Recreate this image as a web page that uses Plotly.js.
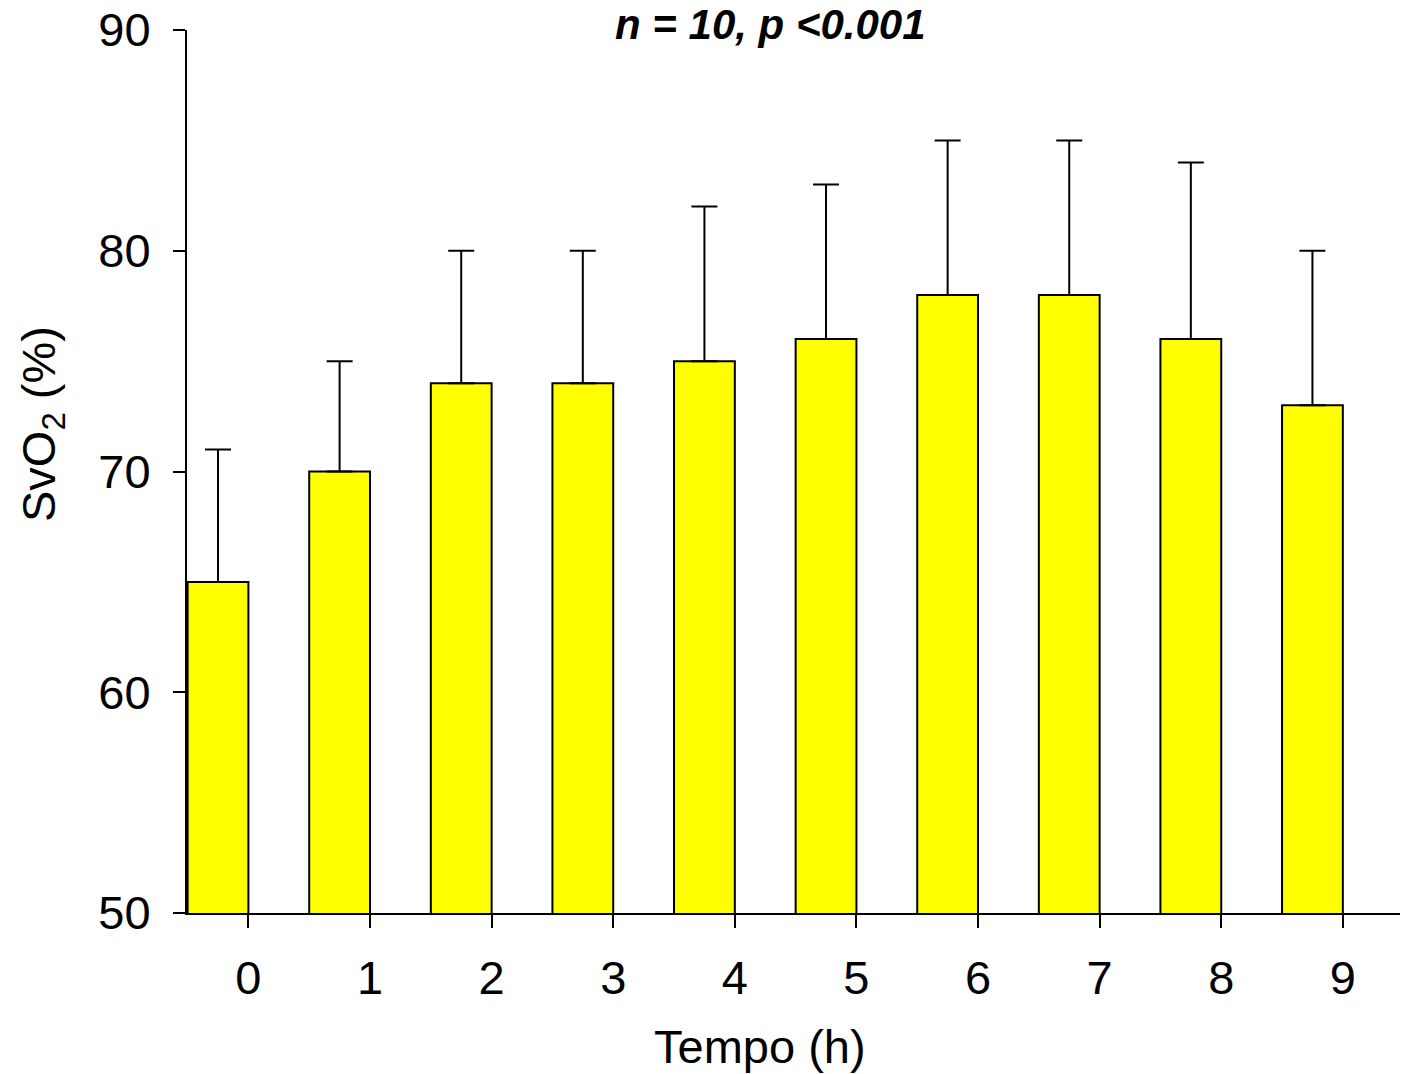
<!DOCTYPE html>
<html>
<head>
<meta charset="utf-8">
<script src="https://cdn.plot.ly/plotly-3.0.1.min.js"></script>
<style>html,body{margin:0;padding:0;background:#fff;}#chart{width:1401px;height:1074px;}</style>
</head>
<body>
<div id="chart"></div>
<script>
const hours = [0, 1, 2, 3, 4, 5, 6, 7, 8, 9];
const tickLabels = ["0", "1", "2", "3", "4", "5", "6", "7", "8", "9"];
const svo2Mean = [65, 70, 74, 74, 75, 76, 78, 78, 76, 73];
const svo2SD = [6, 5, 6, 6, 7, 7, 7, 7, 8, 7];

const FONT = "Liberation Sans, Arial, sans-serif";

const trace = {
  type: "bar",
  x: hours,
  y: svo2Mean,
  width: 0.5,
  marker: { color: "#FFFF00", line: { color: "#000", width: 2 } },
  error_y: {
    type: "data",
    symmetric: false,
    array: svo2SD,
    arrayminus: svo2SD.map(() => 0),
    color: "#000",
    thickness: 2,
    width: 13
  },
  hoverinfo: "none"
};

const layout = {
  width: 1401,
  height: 1074,
  margin: { l: 187, r: 1, t: 30, b: 161 },
  paper_bgcolor: "#fff",
  plot_bgcolor: "#fff",
  showlegend: false,
  font: { family: FONT, size: 47, color: "#000" },
  xaxis: {
    range: [-0.255, 9.72],
    tickvals: hours.map(h => h + 0.25),
    ticktext: tickLabels,
    ticks: "outside",
    ticklen: 13,
    tickwidth: 2,
    tickcolor: "#000",
    showline: true,
    linecolor: "#000",
    linewidth: 2,
    showgrid: false,
    zeroline: false,
    ticklabelstandoff: 10,
    tickfont: { family: FONT, size: 47, color: "#000" }
  },
  yaxis: {
    range: [50, 90],
    tickvals: [50, 60, 70, 80, 90],
    ticks: "outside",
    ticklen: 12,
    tickwidth: 2,
    tickcolor: "#000",
    showline: true,
    linecolor: "#000",
    linewidth: 2,
    showgrid: false,
    zeroline: false,
    ticklabelstandoff: 13,
    tickfont: { family: FONT, size: 47, color: "#000" }
  },
  annotations: [
    {
      text: "<b><i>n = 10, p &lt;0.001</i></b>",
      xref: "paper", yref: "paper",
      x: (770 - 187) / 1213, y: (913 - 24) / 883,
      xanchor: "center", yanchor: "middle",
      showarrow: false,
      font: { family: FONT, size: 42, color: "#000" }
    },
    {
      text: "Tempo (h)",
      xref: "paper", yref: "paper",
      x: (760 - 187) / 1213, y: (913 - 1046) / 883,
      xanchor: "center", yanchor: "middle",
      showarrow: false,
      font: { family: FONT, size: 47, color: "#000" }
    },
    {
      text: "SvO<sub>2</sub> (%)",
      xref: "paper", yref: "paper",
      x: (42 - 187) / 1213, y: (913 - 424) / 883,
      xanchor: "center", yanchor: "middle",
      textangle: -90,
      showarrow: false,
      font: { family: FONT, size: 47, color: "#000" }
    }
  ]
};

Plotly.newPlot("chart", [trace], layout, { staticPlot: true, displayModeBar: false });
</script>
</body>
</html>
